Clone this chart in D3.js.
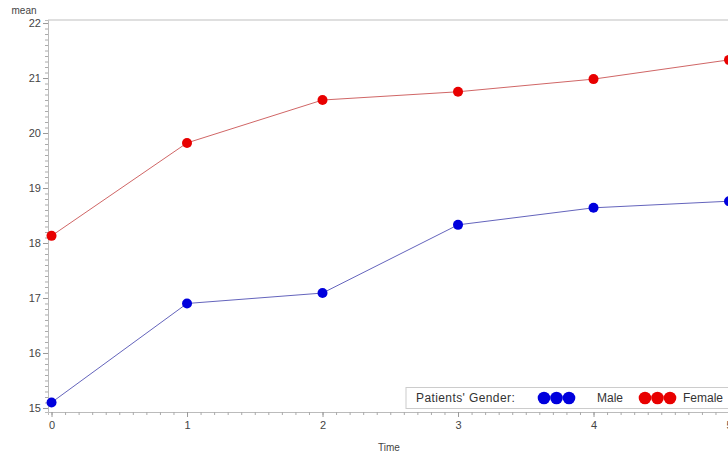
<!DOCTYPE html>
<meta charset="utf-8">
<style>
  body { margin: 0; background: #fff; }
  svg { font-family: "Liberation Sans", Arial, sans-serif; }
  .axis text { fill: #444; font-size: 11px; }
</style>
<body>
<script src="https://cdnjs.cloudflare.com/ajax/libs/d3/7.8.5/d3.min.js"></script>
<script>
  // data
  var times = [0, 1, 2, 3, 4, 5];
  var maleMean = [15.10, 16.90, 17.09, 18.33, 18.64, 18.76];
  var femaleMean = [18.13, 19.82, 20.60, 20.75, 20.98, 21.33];
  var yTicks = [15, 16, 17, 18, 19, 20, 21, 22];
  var seriesNames = ["Male", "Female"];
  var legendTitle = "Patients' Gender:";

  var W = 728, H = 453;
  var plotLeft = 48, plotTop = 20, plotBottom = 412;

  var svg = d3.select("body").append("svg")
    .attr("width", W).attr("height", H);

  var x = d3.scaleLinear().domain([-0.026, 5.2]).range([plotLeft, plotLeft + 5.226 * 135.5]);
  var y = d3.scaleLinear().domain([14.927, 22.055]).range([plotBottom, plotTop]);

  // frame top
  svg.append("line")
    .attr("x1", plotLeft).attr("x2", W).attr("y1", plotTop).attr("y2", plotTop)
    .style("stroke", "#d4d4d4").style("stroke-width", 1.5);

  // minor ticks
  var xMinor = d3.range(0, 52).map(function (i) { return i / 10; });
  var yMinor = d3.range(150, 221).map(function (i) { return i / 10; });

  svg.append("g")
    .attr("transform", "translate(0," + plotBottom + ")")
    .call(d3.axisBottom(x).tickValues(xMinor).tickSize(3).tickFormat(""))
    .call(function (g) {
      g.select(".domain").style("stroke", "#bbb");
      g.selectAll("line").style("stroke", "#aaa");
    });

  svg.append("g")
    .attr("transform", "translate(" + plotLeft + ",0)")
    .call(d3.axisLeft(y).tickValues(yMinor).tickSize(3).tickFormat(""))
    .call(function (g) {
      g.select(".domain").style("stroke", "#bbb");
      g.selectAll("line").style("stroke", "#aaa");
    });

  // major ticks + labels
  svg.append("g")
    .attr("class", "axis")
    .attr("transform", "translate(0," + plotBottom + ")")
    .call(d3.axisBottom(x).tickValues(times).tickSize(5).tickPadding(4).tickFormat(d3.format("d")))
    .call(function (g) {
      g.select(".domain").remove();
      g.selectAll("line").style("stroke", "#999");
    });

  svg.append("g")
    .attr("class", "axis")
    .attr("transform", "translate(" + plotLeft + ",0)")
    .call(d3.axisLeft(y).tickValues(yTicks).tickSize(5).tickPadding(2).tickFormat(d3.format("d")))
    .call(function (g) {
      g.select(".domain").remove();
      g.selectAll("line").style("stroke", "#999");
    });

  // axis titles
  svg.append("text")
    .attr("x", 24).attr("y", 14)
    .attr("text-anchor", "middle")
    .style("font-size", "10px").style("fill", "#444")
    .text("mean");

  svg.append("text")
    .attr("x", 389).attr("y", 451)
    .attr("text-anchor", "middle")
    .style("font-size", "10px").style("fill", "#444")
    .text("Time");

  // lines and markers
  var series = [
    { name: seriesNames[0], values: maleMean, line: "#6464bc", dot: "#0000dd" },
    { name: seriesNames[1], values: femaleMean, line: "#d06666", dot: "#e80000" }
  ];

  var line = d3.line()
    .x(function (d, i) { return x(times[i]); })
    .y(function (d) { return y(d); });

  series.forEach(function (s) {
    svg.append("path")
      .datum(s.values)
      .attr("d", line)
      .style("fill", "none")
      .style("stroke", s.line)
      .style("stroke-width", 1);

    svg.selectAll(null)
      .data(s.values)
      .enter()
      .append("circle")
      .attr("cx", function (d, i) { return x(times[i]); })
      .attr("cy", function (d) { return y(d); })
      .attr("r", 5)
      .style("fill", s.dot);
  });

  // legend
  var lg = svg.append("g");
  lg.append("rect")
    .attr("x", 406).attr("y", 387.5)
    .attr("width", 340).attr("height", 21)
    .style("fill", "#fff")
    .style("stroke", "#ccc");

  lg.append("text")
    .attr("x", 416).attr("y", 402)
    .style("font-size", "12px").style("letter-spacing", "0.4px").style("fill", "#333")
    .text(legendTitle);

  var legendX = [544, 645];
  var labelX = [597, 683];
  series.forEach(function (s, k) {
    [0, 1, 2].forEach(function (j) {
      lg.append("circle")
        .attr("cx", legendX[k] + j * 12.5)
        .attr("cy", 398)
        .attr("r", 6.3)
        .style("fill", s.dot);
    });
    lg.append("text")
      .attr("x", labelX[k]).attr("y", 402)
      .style("font-size", "12px").style("fill", "#333")
      .text(s.name);
  });
</script>
</body>
